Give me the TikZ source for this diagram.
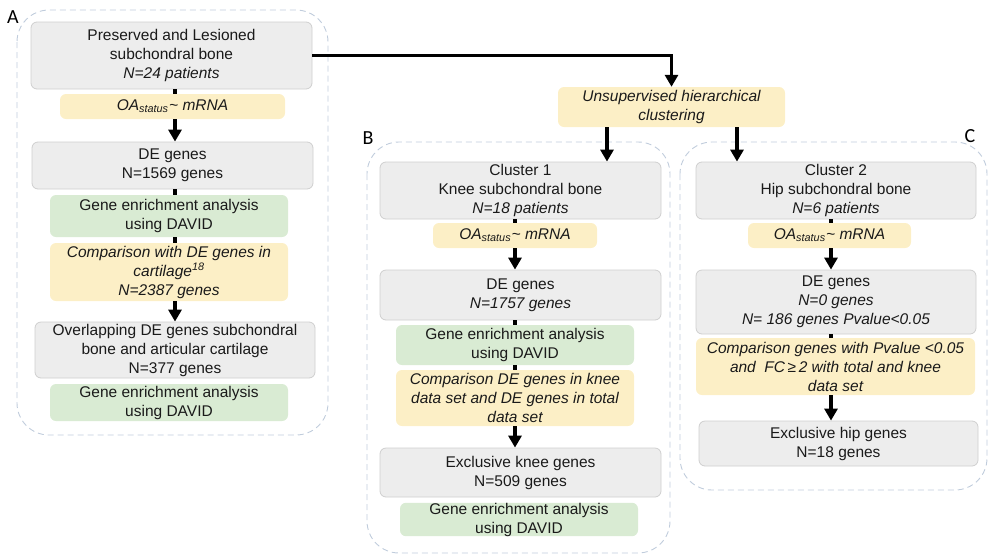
\documentclass[tikz,border=0pt]{standalone}
\usepackage{fontspec}
\setmainfont{Liberation Sans}
\newfontfamily\labfont{Carlito}
\usetikzlibrary{arrows.meta}
\definecolor{gfill}{HTML}{EDEDED}
\definecolor{gdraw}{HTML}{CFCFCF}
\definecolor{yfill}{HTML}{FCEFC6}
\definecolor{gnfill}{HTML}{D9EBD3}
\definecolor{pdraw}{HTML}{C0CCDC}
\definecolor{txt}{HTML}{1A1A1A}
\tikzset{
  basebox/.style={rounded corners=6pt, align=center, inner sep=0pt, text=txt,
    font=\fontsize{15.5}{19}\selectfont},
  greybox/.style={basebox, fill=gfill, draw=gdraw, line width=0.8pt},
  yelbox/.style={basebox, fill=yfill, draw=none, font=\fontsize{15.5}{19}\selectfont\itshape},
  grnbox/.style={basebox, fill=gnfill, draw=none},
  panel/.style={draw=pdraw, line width=0.9pt, dash pattern=on 6pt off 4pt, rounded corners=32pt},
  stub/.style={line width=3.5pt, black},
  arr/.style={line width=3.5pt, black, -{Triangle[length=12pt,width=13pt]}},
  lab/.style={font=\labfont\fontsize{20}{20}\selectfont, inner sep=0pt}
}
\newcommand{\oamrna}{OA\textsubscript{status}\kern0.5pt\textasciitilde{} mRNA}
\begin{document}
\begin{tikzpicture}[x=1pt,y=-1pt]
\useasboundingbox (0,0) rectangle (988,555);
% panels
\draw[panel] (17,10) rectangle (328,435);
\draw[panel] (367,142) rectangle (670,553);
\draw[panel] (680,142) rectangle (987,490);
\node[lab] (la) at (13,17) {A};
\node[lab] (lb) at (368,138) {B};
\node[lab] (lc) at (970,136) {C};
% column x coordinates
\coordinate (xa) at (175,0);
\coordinate (xb) at (515,0);
\coordinate (xc) at (831,0);
% panel A
\node[greybox, minimum width=281pt, minimum height=67pt] (a1) at (171.5,55.5)
  {Preserved and Lesioned\\subchondral bone\\\textit{N=24 patients}};
\node[yelbox, minimum width=225pt, minimum height=25pt] (a2) at (172.5,106.5) {\oamrna};
\node[greybox, minimum width=281pt, minimum height=47pt] (a3) at (172.5,165.5)
  {DE genes\\N=1569 genes};
\node[grnbox, minimum width=238pt, minimum height=42pt] (a4) at (169,216)
  {Gene enrichment analysis\\using DAVID};
\node[yelbox, minimum width=238pt, minimum height=58pt] (a5) at (169,272)
  {Comparison with DE genes in\\cartilage\textsuperscript{18}\\N=2387 genes};
\node[greybox, minimum width=280pt, minimum height=56pt] (a6) at (175,350)
  {Overlapping DE genes subchondral\\bone and articular cartilage\\N=377 genes};
\node[grnbox, minimum width=238pt, minimum height=37pt] (a7) at (169,402.5)
  {Gene enrichment analysis\\using DAVID};
% clustering
\node[yelbox, minimum width=227pt, minimum height=40pt] (u) at (671.5,107)
  {Unsupervised hierarchical\\clustering};
% panel B
\node[greybox, minimum width=281pt, minimum height=57pt] (b1) at (520.5,190.5)
  {Cluster 1\\Knee subchondral bone\\\textit{N=18 patients}};
\node[yelbox, minimum width=164pt, minimum height=25pt] (b2) at (515,235.5) {\oamrna};
\node[greybox, minimum width=281pt, minimum height=50pt] (b3) at (520.5,295)
  {DE genes\\\textit{N=1757 genes}};
\node[grnbox, minimum width=238pt, minimum height=40pt] (b4) at (515,345)
  {Gene enrichment analysis\\using DAVID};
\node[yelbox, minimum width=238pt, minimum height=56pt] (b5) at (515,398)
  {Comparison DE genes in knee\\data set and DE genes in total\\data set};
\node[greybox, minimum width=281pt, minimum height=49pt] (b6) at (520.5,472.5)
  {Exclusive knee genes\\N=509 genes};
\node[grnbox, minimum width=238pt, minimum height=33pt] (b7) at (519,519.5)
  {Gene enrichment analysis\\using DAVID};
% panel C
\node[greybox, minimum width=280pt, minimum height=57pt] (c1) at (836,190.5)
  {Cluster 2\\Hip subchondral bone\\\textit{N=6 patients}};
\node[yelbox, minimum width=163pt, minimum height=25pt] (c2) at (829.5,235.5) {\oamrna};
\node[greybox, minimum width=280pt, minimum height=64pt] (c3) at (836,302)
  {DE genes\\\textit{N=0 genes}\\\textit{N= 186 genes Pvalue<0.05}};
\node[yelbox, minimum width=279pt, minimum height=57pt] (c4) at (835.5,366.5)
  {Comparison genes with Pvalue <0.05\\and\ \ FC\,≥\,2 with total and knee\\data set};
\node[greybox, minimum width=279pt, minimum height=45pt] (c5) at (838.5,443.5)
  {Exclusive hip genes\\N=18 genes};
% connectors A
\draw[stub] (a1.south -| xa) -- (a2.north -| xa);
\draw[arr] (a2.south -| xa) -- (a3.north -| xa);
\draw[stub] (a3.south -| xa) -- (a4.north -| xa);
\draw[stub] (a4.south -| xa) -- (a5.north -| xa);
\draw[arr] (a5.south -| xa) -- (a6.north -| xa);
% to clustering
\draw[line width=3pt, -{Triangle[length=12pt,width=13pt]}] (a1.east) -| (u.north);
\draw[arr] ([xshift=-64.5pt]u.south) -- ([xshift=-64.5pt]u.south |- b1.north);
\draw[arr] ([xshift=65.5pt]u.south) -- ([xshift=65.5pt]u.south |- c1.north);
% connectors B
\draw[stub] (b1.south -| xb) -- (b2.north -| xb);
\draw[arr] (b2.south -| xb) -- (b3.north -| xb);
\draw[stub] (b3.south -| xb) -- (b4.north -| xb);
\draw[stub] (b4.south -| xb) -- (b5.north -| xb);
\draw[arr] (b5.south -| xb) -- (b6.north -| xb);
% connectors C
\draw[stub] (c1.south -| xc) -- (c2.north -| xc);
\draw[arr] (c2.south -| xc) -- (c3.north -| xc);
\draw[stub] (c3.south -| xc) -- (c4.north -| xc);
\draw[arr] (c4.south -| xc) -- (c5.north -| xc);
\end{tikzpicture}
\end{document}
